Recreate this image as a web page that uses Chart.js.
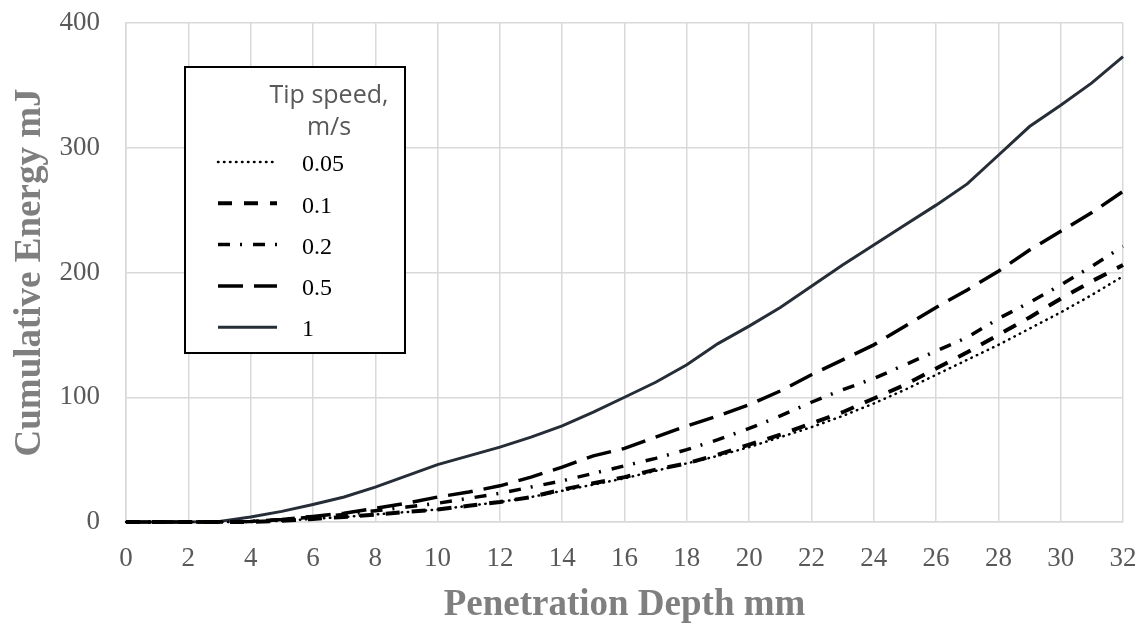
<!DOCTYPE html>
<html>
<head>
<meta charset="utf-8">
<script src="https://cdn.jsdelivr.net/npm/chart.js@4.4.1/dist/chart.umd.min.js"></script>
<style>
  html, body { margin: 0; padding: 0; background: #ffffff; }
  #wrap { width: 1147px; height: 628px; }
</style>
</head>
<body>
<div id="wrap"><canvas id="energyChart" width="1147" height="628"></canvas></div>
<script>
// penetration depth (mm) and cumulative energy (mJ) per tip speed
const depthMm = [0, 1, 2, 3, 4, 5, 6, 7, 8, 9, 10, 11, 12, 13, 14, 15, 16,
                 17, 18, 19, 20, 21, 22, 23, 24, 25, 26, 27, 28, 29, 30, 31, 32];
const speed005 = [0, 0, 0, 0, 0, 1, 2.5, 4, 6, 8, 10, 13, 16, 20, 25, 30, 35,
                  41, 47, 53, 60, 68, 76, 85, 95, 106, 118, 130, 142, 155, 168, 182, 197];
const speed01 = [0, 0, 0, 0, 0, 1, 2.5, 4, 6, 8, 10, 13, 16, 20, 26, 31, 36,
                 42, 47, 54, 62, 70, 79, 88, 99, 110, 123, 136, 150, 164, 179, 193, 206];
const speed02 = [0, 0, 0, 0, 0.5, 2, 4, 6, 9, 12, 15, 19, 23, 28, 33, 39, 45,
                 51, 58, 66, 75, 85, 96, 106, 115, 126, 137, 148, 163, 176, 190, 205, 221];
const speed05 = [0, 0, 0, 0, 0.5, 2, 4.5, 7, 11, 15, 20, 24, 29, 36, 44, 53, 59,
                 68, 77, 85, 94, 105, 118, 130, 142, 157, 172, 186, 201, 218, 233, 248, 265];
const speed1 = [0, 0, 0, 0.5, 4, 8.5, 14, 20, 28, 37, 46, 53, 60, 68, 77, 88, 100,
                112, 126, 143, 157, 172, 189, 206, 222, 238, 254, 271, 294, 317, 334, 352, 373];
const speedLabels = ['0.05', '0.1', '0.2', '0.5', '1'];
const legendTitle = ['Tip speed,', 'm/s'];

const seriesValues = [speed005, speed01, speed02, speed05, speed1];
const seriesStyles = [
    { color: '#000000', width: 2.5, dash: [0.5, 5.5], cap: 'round' },
    { color: '#000000', width: 4, dash: [14, 12], cap: 'butt' },
    { color: '#000000', width: 3.5, dash: [12, 10, 2, 11], cap: 'butt' },
    { color: '#000000', width: 3.5, dash: [25, 11], cap: 'butt' },
    { color: '#262d37', width: 3, dash: [], cap: 'butt' }
];

const datasets = seriesValues.map((values, i) => ({
    label: speedLabels[i],
    data: values.map((v, j) => ({ x: depthMm[j], y: v })),
    borderColor: seriesStyles[i].color,
    borderWidth: seriesStyles[i].width,
    borderDash: seriesStyles[i].dash,
    borderCapStyle: seriesStyles[i].cap,
    pointRadius: 0,
    tension: 0,
    fill: false,
    clip: false
}));

// boxed legend drawn inside the plot area
const insideLegend = {
    id: 'insideLegend',
    afterDatasetsDraw: (chart) => {
        const ctx = chart.ctx;
        const box = { left: 185, top: 67, width: 220, height: 286 };
        ctx.save();
        ctx.fillStyle = '#ffffff';
        ctx.fillRect(box.left, box.top, box.width, box.height);
        ctx.strokeStyle = '#000000';
        ctx.lineWidth = 2;
        ctx.strokeRect(box.left, box.top, box.width, box.height);

        ctx.fillStyle = '#595959';
        ctx.font = '25px "Open Sans"';
        ctx.textAlign = 'center';
        ctx.textBaseline = 'alphabetic';
        ctx.fillText(legendTitle[0], 329, 103);
        ctx.fillText(legendTitle[1], 329, 135);

        chart.data.datasets.forEach((ds, i) => {
            const y = 162 + i * 41.3;
            ctx.beginPath();
            ctx.setLineDash(ds.borderDash);
            ctx.lineCap = ds.borderCapStyle;
            ctx.lineWidth = ds.borderWidth;
            ctx.strokeStyle = ds.borderColor;
            ctx.moveTo(218, y);
            ctx.lineTo(277, y);
            ctx.stroke();
            ctx.setLineDash([]);
            ctx.fillStyle = '#000000';
            ctx.font = '24px "Liberation Serif"';
            ctx.textAlign = 'left';
            ctx.textBaseline = 'middle';
            ctx.fillText(ds.label, 302, y + 3);
        });
        ctx.restore();
    }
};

const ctx = document.getElementById('energyChart').getContext('2d');
window.energyChart = new Chart(ctx, {
    type: 'line',
    data: { datasets: datasets },
    options: {
        responsive: false,
        animation: false,
        layout: {
            padding: { top: 23, right: 24, left: 0, bottom: 0 }
        },
        plugins: {
            legend: { display: false },
            tooltip: { enabled: false }
        },
        scales: {
            x: {
                type: 'linear',
                min: 0,
                max: 32,
                afterFit: (scale) => {
                    scale.height = 106;
                    scale.paddingLeft = 0;
                    scale.paddingRight = 0;
                },
                ticks: {
                    stepSize: 2,
                    padding: 21,
                    color: '#595959',
                    font: { family: 'Liberation Serif', size: 27 }
                },
                grid: {
                    color: '#d9d9d9',
                    lineWidth: 1.5,
                    drawTicks: false
                },
                border: { color: '#d9d9d9', width: 1.5 },
                title: {
                    display: true,
                    text: 'Penetration Depth mm',
                    color: '#7f7f7f',
                    padding: { top: 0, bottom: 0 },
                    font: { family: 'Liberation Serif', size: 37, weight: 'bold' }
                }
            },
            y: {
                min: 0,
                max: 400,
                afterFit: (scale) => {
                    scale.width = 126;
                    scale.paddingTop = 0;
                    scale.paddingBottom = 0;
                },
                ticks: {
                    stepSize: 100,
                    padding: 26,
                    color: '#595959',
                    font: { family: 'Liberation Serif', size: 27 }
                },
                grid: {
                    color: '#d9d9d9',
                    lineWidth: 1.5,
                    drawTicks: false
                },
                border: { color: '#d9d9d9', width: 1.5 },
                title: {
                    display: true,
                    text: 'Cumulative Energy mJ',
                    color: '#7f7f7f',
                    padding: { top: 8, bottom: 0 },
                    font: { family: 'Liberation Serif', size: 37, weight: 'bold' }
                }
            }
        }
    },
    plugins: [insideLegend]
});
</script>
</body>
</html>
